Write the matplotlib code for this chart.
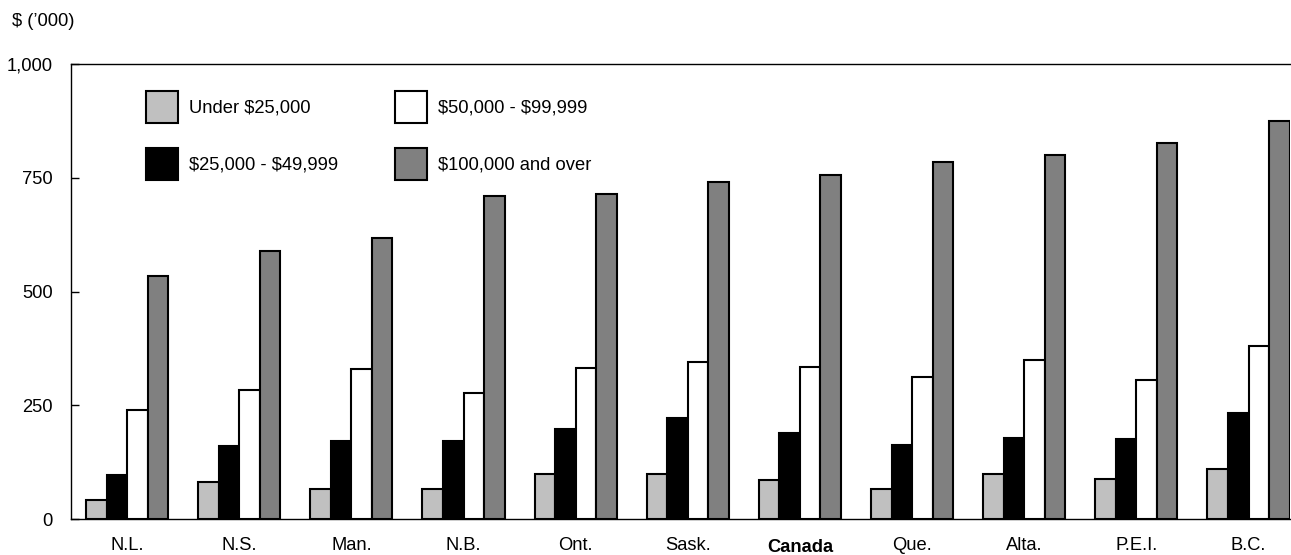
import matplotlib
matplotlib.use("Agg")
import matplotlib.pyplot as plt
import numpy as np

plt.rcParams['font.family'] = ['Liberation Sans', 'DejaVu Sans']

provinces = ["N.L.", "N.S.", "Man.", "N.B.", "Ont.", "Sask.", "Canada", "Que.", "Alta.", "P.E.I.", "B.C."]
series_names = ["Under \\$25,000", "\\$25,000 - \\$49,999", "\\$50,000 - \\$99,999", "\\$100,000 and over"]
under_25k = [42, 81, 67, 65, 100, 100, 86, 66, 100, 88, 109]
from_25k_to_50k = [97, 160, 171, 172, 197, 221, 188, 162, 179, 175, 233]
from_50k_to_100k = [240, 284, 330, 276, 332, 345, 333, 313, 350, 306, 381]
over_100k = [534, 590, 617, 709, 715, 741, 755, 784, 800, 826, 874]
yticks = [0, 250, 500, 750, 1000]
ytick_labels = ["0", "250", "500", "750", "1,000"]

colors = ["#c0c0c0", "#000000", "#ffffff", "#808080"]

W, H = 1291, 555
fig = plt.figure(figsize=(W / 100, H / 100), dpi=100)
ax = fig.add_axes([71 / W, (H - 519) / H, (1290 - 71) / W, (519 - 64) / H])

x = np.arange(len(provinces))
w = 0.183
all_series = [under_25k, from_25k_to_50k, from_50k_to_100k, over_100k]
for i, (vals, c, name) in enumerate(zip(all_series, colors, series_names)):
    ax.bar(x + (i - 1.5) * w, vals, width=w, color=c, edgecolor="black",
           linewidth=1.5, label=name, zorder=2)

ax.set_xlim(-0.5, 10.37)
ax.set_ylim(0, 1000)
ax.set_yticks(yticks)
ax.set_yticklabels(ytick_labels, fontsize=13.2)
ax.tick_params(axis="y", direction="in", length=6, width=1, pad=13)
ax.set_xticks(x)
ax.set_xticklabels(provinces, fontsize=13.2)
ax.tick_params(axis="x", length=0, pad=13)
for lbl in ax.get_xticklabels():
    if lbl.get_text() == "Canada":
        lbl.set_fontweight("bold")
        lbl.set_y(-0.004)

for s in ["left", "top", "bottom"]:
    ax.spines[s].set_linewidth(1.0)
ax.spines["right"].set_visible(False)

fig.text(12 / W, 1 - 22 / H, "\\$ (\u2019000)", fontsize=13.2, ha="left", va="center")

leg = ax.legend(loc="upper left", bbox_to_anchor=(146 / W, 1 - 91 / H),
                bbox_transform=fig.transFigure, ncol=2, frameon=False,
                fontsize=13.2, handlelength=1.72, handleheight=2.32,
                handletextpad=0.6, columnspacing=3.15, labelspacing=1.36,
                borderpad=0, borderaxespad=0)

fig.savefig("out.png", dpi=100)
